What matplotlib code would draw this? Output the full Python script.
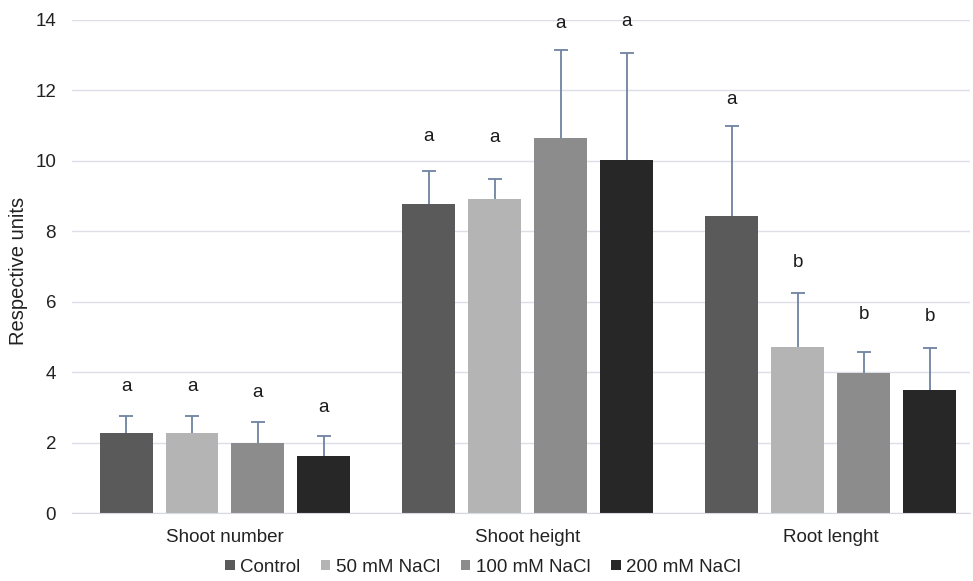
import numpy as np
import matplotlib
matplotlib.use("Agg")
import matplotlib.pyplot as plt
from matplotlib.patches import Patch

plt.rcParams["font.family"] = ["Liberation Sans", "DejaVu Sans"]

# Traits and treatments
categories = ["Shoot number", "Shoot height", "Root lenght"]
treatments = ["Control", "50 mM NaCl", "100 mM NaCl", "200 mM NaCl"]

# Mean values per treatment (one list per treatment, ordered by trait)
control = [2.28, 8.78, 8.44]
nacl_50 = [2.28, 8.92, 4.72]
nacl_100 = [1.98, 10.66, 3.97]
nacl_200 = [1.63, 10.02, 3.48]

# Upper error (standard deviation)
err_control = [0.48, 0.93, 2.54]
err_50 = [0.48, 0.56, 1.54]
err_100 = [0.60, 2.50, 0.59]
err_200 = [0.56, 3.04, 1.20]

# Significance letters and their heights
letters_control = ["a", "a", "a"]
letters_50 = ["a", "a", "b"]
letters_100 = ["a", "a", "b"]
letters_200 = ["a", "a", "b"]
letter_y_control = [3.59, 10.69, 11.73]
letter_y_50 = [3.59, 10.66, 7.11]
letter_y_100 = [3.41, 13.89, 5.63]
letter_y_200 = [3.01, 13.96, 5.58]

means = [control, nacl_50, nacl_100, nacl_200]
errors = [err_control, err_50, err_100, err_200]
letters = [letters_control, letters_50, letters_100, letters_200]
letter_ys = [letter_y_control, letter_y_50, letter_y_100, letter_y_200]
colors = ["#5a5a5a", "#b4b4b4", "#8c8c8c", "#272727"]

fig = plt.figure(figsize=(9.73, 5.81), dpi=100)
ax = fig.add_axes([72 / 973, 1 - 513 / 581, 898 / 973, 493 / 581])

x = np.arange(len(categories))
step = 66 / 303
width = 53 / 303
offsets = (np.arange(len(treatments)) - 1.5) * step

for vals, errs, labs, lys, col, off, name in zip(
        means, errors, letters, letter_ys, colors, offsets, treatments):
    pos = x + off
    ax.bar(pos, vals, width=width, color=col, zorder=2, label=name)
    _, caps, _ = ax.errorbar(pos, vals, yerr=[np.zeros(len(errs)), errs],
                             fmt="none", ecolor="#6f82a3", elinewidth=1.3,
                             capsize=5, capthick=1.3, zorder=3)
    # only the upper whisker carries a cap
    caps[0].set_visible(False)
    for px, ly, lab in zip(pos, lys, labs):
        ax.text(px, ly, lab, ha="center", va="center", fontsize=13.5,
                color="#1a1a1a")

ax.set_ylim(0, 14)
ax.set_xlim(-0.505, 2.459)
ax.set_yticks(np.arange(0, 15, 2))
ax.yaxis.grid(True, color="#dcdfe8", linewidth=1, zorder=0)
ax.set_axisbelow(True)
for s in ["top", "right", "left"]:
    ax.spines[s].set_visible(False)
ax.spines["bottom"].set_color("#d6d9e2")
ax.tick_params(axis="both", length=0, labelsize=13.5, colors="#222222")
ax.tick_params(axis="x", pad=11.5)
ax.tick_params(axis="y", pad=11.5)
ax.set_xticks(x)
ax.set_xticklabels(categories)

fig.text(19 / 973, 1 - 271 / 581, "Respective units", rotation=90,
         ha="center", va="center", fontsize=14.5, color="#222222")

handles = [Patch(facecolor=c, edgecolor="none") for c in colors]
fig.legend(handles, treatments, loc="center", bbox_to_anchor=(483 / 973, 1 - 567 / 581),
           ncol=4, frameon=False, fontsize=13.5, handlelength=0.5,
           handleheight=0.5, handletextpad=0.3, columnspacing=1.1,
           labelcolor="#222222")

fig.savefig("out.png", dpi=100)
